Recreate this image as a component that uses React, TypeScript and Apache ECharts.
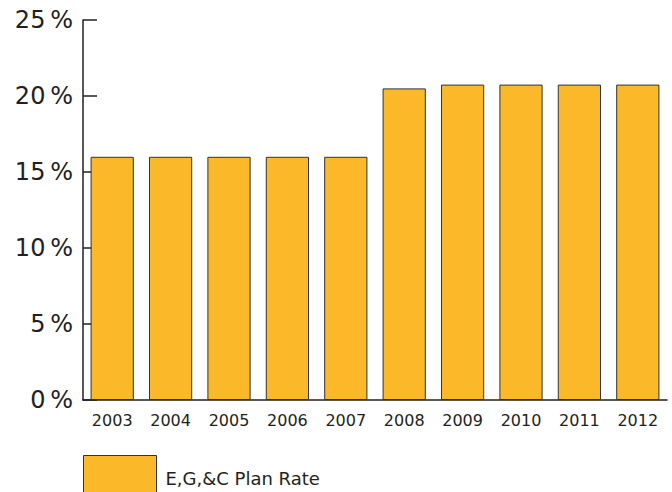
import React, { useEffect, useRef } from "react";
import * as echarts from "echarts";

const years = ["2003", "2004", "2005", "2006", "2007", "2008", "2009", "2010", "2011", "2012"];
const planRate = [16, 16, 16, 16, 16, 20.5, 20.75, 20.75, 20.75, 20.75];
const seriesName = "E,G,&C Plan Rate";

export default function App() {
  const ref = useRef<HTMLDivElement>(null);
  useEffect(() => {
    if (!ref.current) return;
    const chart = echarts.init(ref.current, null, { renderer: "svg" });
    const textColor = "#231f20";
    const font = "DejaVu Sans, Arial, sans-serif";
    chart.setOption({
      animation: false,
      backgroundColor: "#ffffff",
      grid: { left: 83, right: 5, top: 20, bottom: 92, containLabel: false },
      legend: {
        data: [{ name: seriesName, icon: "rect" }],
        left: 83,
        top: 455,
        padding: 0,
        itemWidth: 73,
        itemHeight: 46,
        itemStyle: { borderColor: "#333", borderWidth: 1 },
        textStyle: {
          fontFamily: font,
          fontSize: 18,
          color: textColor,
          padding: [0, 0, 0, 4],
        },
      },
      xAxis: {
        type: "category",
        data: years,
        boundaryGap: true,
        axisLine: { lineStyle: { color: "#231f20", width: 1.5 } },
        axisTick: { inside: true, length: 9, lineStyle: { color: "#231f20", width: 1.5 } },
        axisLabel: {
          color: textColor,
          fontFamily: font,
          fontSize: 16,
          margin: 12,
        },
      },
      yAxis: {
        type: "value",
        min: 0,
        max: 25,
        interval: 5,
        splitLine: { show: false },
        axisLine: { show: true, lineStyle: { color: "#231f20", width: 1.5 } },
        axisTick: { show: true, inside: true, length: 14, lineStyle: { color: "#231f20", width: 1.5 } },
        axisLabel: {
          color: textColor,
          fontFamily: font,
          fontSize: 24,
          margin: 10,
          formatter: (v: number) => `${v}\u2009%`,
        },
      },
      series: [
        {
          name: seriesName,
          type: "bar",
          data: planRate,
          barCategoryGap: "26%",
          itemStyle: { color: "#FBB829", borderColor: "#333", borderWidth: 1 },
        },
      ],
    });
    return () => chart.dispose();
  }, []);
  return <div ref={ref} style={{ position: "fixed", left: 0, top: 0, width: 672, height: 492 }} />;
}
